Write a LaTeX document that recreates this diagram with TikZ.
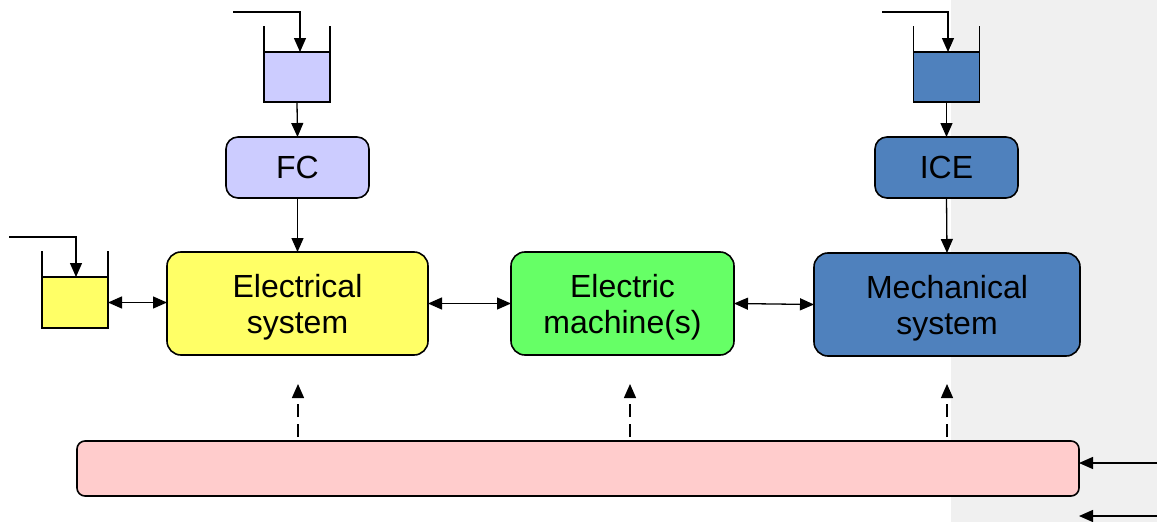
\documentclass[tikz,border=0pt]{standalone}
\usepackage{fontspec}
\setmainfont{Liberation Sans}
\usetikzlibrary{arrows.meta}
\definecolor{fcblue}{HTML}{CCCCFF}
\definecolor{iceblue}{HTML}{4F81BD}
\definecolor{elecyel}{HTML}{FFFF66}
\definecolor{emgreen}{HTML}{66FF66}
\definecolor{ctrlpink}{HTML}{FFCCCC}
\definecolor{bggray}{HTML}{F0F0F0}
\newcommand{\lowerstrut}{\rule{0pt}{31pt}}
\begin{document}
\begin{tikzpicture}[x=1pt,y=-1pt,
  block/.style={draw=black, line width=1.6pt, rounded corners=14pt, inner sep=0pt, outer sep=0pt, align=center, font=\fontsize{32}{36}\selectfont},
  liquid/.style={draw=black, line width=1.8pt, inner sep=0pt, outer sep=0pt, minimum width=66pt, minimum height=50pt},
  wall/.style={line width=1.4pt},
  flow/.style={line width=1.3pt, -{Triangle[length=14pt,width=12pt]}},
  bidir/.style={line width=1.3pt, {Triangle[length=14pt,width=12pt]}-{Triangle[length=14pt,width=12pt]}},
  ctrl/.style={line width=1.3pt, dash pattern=on 13pt off 7pt, -{Triangle[length=14pt,width=12pt]}}]
\useasboundingbox (0,0) rectangle (1157,522);
\fill[white] (0,0) rectangle (1157,522);
\fill[bggray] (951,0) rectangle (1157,522);

% tanks
\node[liquid, fill=fcblue] (fctank) at (297,77) {};
\node[liquid, fill=iceblue] (icetank) at (946.5,77) {};
\node[liquid, fill=elecyel, minimum height=51pt] (batt) at (75,302.5) {};
\foreach \t in {fctank,icetank,batt}{
  \draw[wall] (\t.north west) -- ++(0,-26);
  \draw[wall] (\t.north east) -- ++(0,-26);
}

% blocks
\node[block, fill=fcblue, minimum width=143pt, minimum height=61pt, rounded corners=12pt] (fc) at (297.5,167.5) {FC};
\node[block, fill=iceblue, minimum width=143pt, minimum height=61pt, rounded corners=12pt] (ice) at (946.5,167.5) {ICE};
\node[block, fill=elecyel, minimum width=261pt, minimum height=103pt] (elec) at (297.5,303.5) {\lowerstrut Electrical\\system};
\node[block, fill=emgreen, minimum width=223pt, minimum height=103pt] (em) at (622.5,303.5) {\lowerstrut Electric\\machine(s)};
\node[block, fill=iceblue, minimum width=266pt, minimum height=103pt] (mech) at (947,304.5) {\lowerstrut Mechanical\\system};
\node[block, fill=ctrlpink, minimum width=1002pt, minimum height=55pt, rounded corners=8pt] (ctrl) at (578,468.5) {};

% inlets
\coordinate (in1) at (233,12);
\coordinate (in2) at (882,12);
\coordinate (in3) at (9,237);
\draw[flow] (in1) -| ([xshift=3pt]fctank.north);
\draw[flow] (in2) -| ([xshift=1.5pt]icetank.north);
\draw[flow] (in3) -| ([xshift=1pt]batt.north);

% flows
\draw[flow] (fctank.south) -- (fc.north);
\draw[flow] (icetank.south) -- (ice.north);
\draw[flow] (fc.south) -- (elec.north);
\draw[flow] (ice.south) -- (mech.north);
\draw[bidir] (batt.east) -- (batt.east -| elec.west);
\draw[bidir] (elec.east) -- (em.west);
\draw[bidir] (em.east) -- (mech.west);

% control signals
\coordinate (c1) at (298,437);
\coordinate (c2) at (630,437);
\coordinate (c3) at (947,437);
\coordinate (t1) at (298,384);
\coordinate (t2) at (630,384);
\coordinate (t3) at (947,384);
\draw[ctrl] (c1) -- (t1);
\draw[ctrl] (c2) -- (t2);
\draw[ctrl] (c3) -- (t3);

% external inputs
\coordinate (r1) at (1157,463);
\coordinate (r2) at (1157,516);
\draw[flow] (r1) -- (r1 -| ctrl.east);
\draw[flow] (r2) -- (r2 -| ctrl.east);
\end{tikzpicture}
\end{document}
